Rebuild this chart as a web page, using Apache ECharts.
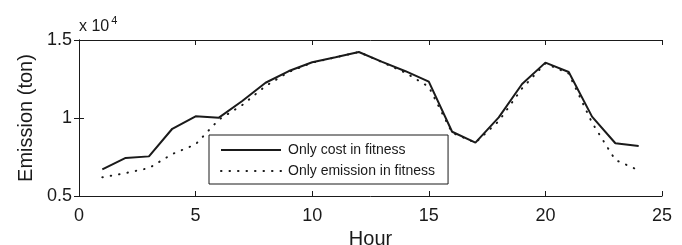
<!DOCTYPE html>
<html>
<head>
<meta charset="utf-8">
<script src="https://cdn.jsdelivr.net/npm/echarts@6/dist/echarts.min.js"></script>
<style>html,body{margin:0;padding:0;background:#fff}#c{width:682px;height:245px}</style>
</head>
<body>
<div id="c"></div>
<script>
const hours = [1,2,3,4,5,6,7,8,9,10,11,12,13,14,15,16,17,18,19,20,21,22,23,24];
const costOnly = [6710,7440,7540,9310,10110,10020,11090,12260,13010,13570,13890,14230,13600,13000,12330,9120,8420,10040,12180,13550,12950,10090,8380,8210];
const emissionOnly = [6200,6470,6790,7690,8310,9900,10830,12050,12950,13550,13890,14230,13580,12900,12000,9050,8420,9800,11900,13500,12850,9700,7310,6650];
const seriesNames = ['Only cost in fitness','Only emission in fitness'];
const xTicks = {min:0,max:25,interval:5};
const yTicks = {min:5000,max:15000,interval:5000};

const font = 'Liberation Sans, Arial, Helvetica, sans-serif';
const ink = '#1a1a1a';
const chart = echarts.init(document.getElementById('c'));
const pair = (arr) => hours.map((h,i)=>[h,arr[i]]);
const axisCommon = {
  axisLine:{show:true,lineStyle:{color:ink,width:1}},
  axisTick:{show:true,inside:true,length:5,lineStyle:{color:ink}},
  splitLine:{show:false}
};
chart.setOption({
  animation:false,
  textStyle:{fontFamily:font},
  title:{
    text:'x 10{sup|4}',
    left:74, top:10,
    textStyle:{fontSize:16,fontWeight:'normal',color:ink,fontFamily:font,
      rich:{sup:{fontSize:11,verticalAlign:'top',padding:[0,0,12,2],color:ink,fontFamily:font}}}
  },
  grid:{left:79,right:20,top:40,bottom:49,containLabel:false,outerBoundsMode:'none'},
  legend:{
    orient:'vertical',
    left:209, top:135,
    padding:[8,13,6,11],
    itemGap:7,
    itemWidth:60, itemHeight:14,
    borderColor:ink, borderWidth:1,
    backgroundColor:'#fff',
    itemStyle:{opacity:0},
    textStyle:{fontSize:14,color:ink,fontFamily:font,padding:[0,0,0,2]},
    data:seriesNames
  },
  xAxis:[
    Object.assign({type:'value',position:'bottom',min:xTicks.min,max:xTicks.max,interval:xTicks.interval,
      name:'Hour',nameLocation:'middle',nameGap:31,
      nameTextStyle:{fontSize:20,color:ink,fontFamily:font},
      axisLabel:{fontSize:18,color:ink,margin:11,fontFamily:font}},axisCommon),
    Object.assign({type:'value',position:'top',min:xTicks.min,max:xTicks.max,interval:xTicks.interval,
      axisLabel:{show:false}},axisCommon)
  ],
  yAxis:[
    Object.assign({type:'value',position:'left',min:yTicks.min,max:yTicks.max,interval:yTicks.interval,
      name:'Emission (ton)',nameLocation:'middle',nameGap:42,
      nameTextStyle:{fontSize:20,color:ink,fontFamily:font},
      axisLabel:{fontSize:18,color:ink,margin:7,fontFamily:font,formatter:v=>String(v/10000)}},axisCommon),
    Object.assign({type:'value',position:'right',min:yTicks.min,max:yTicks.max,interval:yTicks.interval,
      axisLabel:{show:false}},axisCommon)
  ],
  series:[
    {name:seriesNames[0],type:'line',data:pair(costOnly),symbol:'none',
      lineStyle:{color:ink,width:2},itemStyle:{color:ink},z:3},
    {name:seriesNames[1],type:'line',data:pair(emissionOnly),symbol:'none',
      lineStyle:{color:ink,width:2,type:[0.5,8],cap:'round'},itemStyle:{color:ink},z:2}
  ]
});
</script>
</body>
</html>
